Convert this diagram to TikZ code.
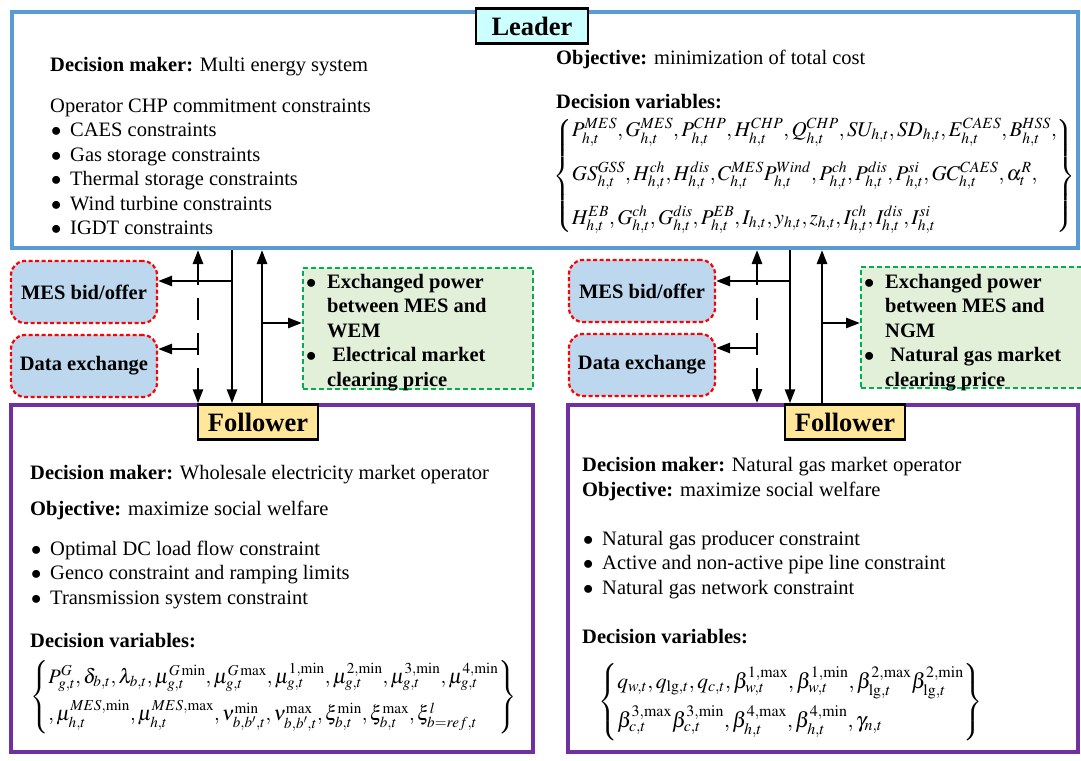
\documentclass[tikz,border=0pt]{standalone}
\usepackage{amsmath}
\usepackage{mathptmx}
\usepackage[no-math]{fontspec}
\setmainfont{Liberation Serif}
\usepackage{tikz}
\usetikzlibrary{positioning,calc,arrows.meta}
\definecolor{ldblue}{HTML}{5B9BD5}
\definecolor{flpurple}{HTML}{7030A0}
\definecolor{tagcyan}{HTML}{CCFFFF}
\definecolor{tagyellow}{HTML}{FFE699}
\definecolor{msgfill}{HTML}{BDD7EE}
\definecolor{infogreen}{HTML}{00B050}
\definecolor{infofill}{HTML}{E2F0D9}
\newcommand{\bodyfnt}{\fontsize{20.5}{24.5}\selectfont}
\newcommand{\headfnt}{\fontsize{26.5}{30}\selectfont\bfseries}
\newcommand{\bul}{\makebox[20pt][l]{\hspace{1pt}$\bullet$}}
\newcommand{\gbul}{\makebox[21pt][l]{$\bullet$}}
\tikzstyle{leadbox} = [draw=ldblue, line width=4pt, minimum width=1066, minimum height=236]
\tikzstyle{folbox} = [draw=flpurple, line width=4pt, minimum height=347]
\tikzstyle{tag} = [draw, line width=2.5pt, inner sep=0pt, minimum height=35, font=\headfnt]
\tikzstyle{msg} = [draw=red, line width=2.2pt, dash pattern=on 4pt off 2.5pt, rounded corners=14pt, fill=msgfill, minimum width=146, minimum height=62, font=\bodyfnt\bfseries]
\tikzstyle{info} = [draw=infogreen, line width=2pt, dash pattern=on 5pt off 3pt, fill=infofill, minimum height=121]
\tikzstyle{txt} = [inner sep=0pt, anchor=base west, font=\bodyfnt]
\tikzstyle{vars} = [inner sep=0pt, anchor=west]
\tikzstyle{to} = [-{Triangle[length=14pt,width=10pt]}, line width=2.6pt]
\tikzstyle{dashto} = [{Triangle[length=14pt,width=10pt]}-{Triangle[length=14pt,width=10pt]}, line width=2.6pt, dash pattern=on 22pt off 13pt]

\begin{document}
\begin{tikzpicture}[x=1pt, y=-1pt]
	\useasboundingbox (0,0) rectangle (1081,760);
	% leader
	\node (lead) [leadbox] at (545,130) {};
	\node (ltag) [tag, fill=tagcyan, minimum width=112] at (532,26) {Leader};
	\node (ldm) [txt] at (50,71) {\textbf{Decision maker:} Multi energy system};
	\node (lcons) [txt] at (50,112) {\begin{tabular}[t]{@{}l@{}}Operator CHP commitment constraints\\
		\bul CAES constraints\\ \bul Gas storage constraints\\ \bul Thermal storage constraints\\
		\bul Wind turbine constraints\\ \bul IGDT constraints\end{tabular}};
	\node (lobj) [txt] at (556,64) {\textbf{Objective:} minimization of total cost};
	\node (lvar) [txt] at (556,108) {\textbf{Decision variables:}};
	\node (lset) [vars, font=\fontsize{21}{25}\selectfont] at (553,176) {$\left\{\begin{array}{@{}l@{}}
		P_{h,t}^{MES},G_{h,t}^{MES},P_{h,t}^{CHP},H_{h,t}^{CHP},Q_{h,t}^{CHP},SU_{h,t},SD_{h,t},E_{h,t}^{CAES},B_{h,t}^{HSS},\\[18pt]
		GS_{h,t}^{GSS},H_{h,t}^{ch},H_{h,t}^{dis},C_{h,t}^{MES}P_{h,t}^{Wind},P_{h,t}^{ch},P_{h,t}^{dis},P_{h,t}^{si},GC_{h,t}^{CAES},\alpha_t^{R},\\[18pt]
		H_{h,t}^{EB},G_{h,t}^{ch},G_{h,t}^{dis},P_{h,t}^{EB},I_{h,t},y_{h,t},z_{h,t},I_{h,t}^{ch},I_{h,t}^{dis},I_{h,t}^{si}
		\end{array}\right\}$};
	%
	% followers
	\node (folL) [folbox, minimum width=522] at (272,578.5) {};
	\node (folR) [folbox, minimum width=510] at (823,578.5) {};
	\node (ftagL) [tag, fill=tagyellow, minimum width=120] at (258,422) {Follower};
	\node (ftagR) [tag, fill=tagyellow, minimum width=120] at (845,422) {Follower};
	%
	\node (fdmL) [txt] at (30,479) {\textbf{Decision maker:} Wholesale electricity market operator};
	\node (fobjL) [txt] at (30,515) {\textbf{Objective:} maximize social welfare};
	\node (fconL) [txt] at (30,555) {\begin{tabular}[t]{@{}l@{}}\bul Optimal DC load flow constraint\\
		\bul Genco constraint and ramping limits\\ \bul Transmission system constraint\end{tabular}};
	\node (fvarL) [txt] at (30,647) {\textbf{Decision variables:}};
	\node (fsetL) [vars, font=\fontsize{20.5}{24}\selectfont] at (30,697) {$\left\{\begin{array}{@{}l@{}}
		P_{g,t}^{G},\delta_{b,t},\lambda_{b,t},\mu_{g,t}^{G\min},\mu_{g,t}^{G\max},\mu_{g,t}^{1,\min},\mu_{g,t}^{2,\min},\mu_{g,t}^{3,\min},\mu_{g,t}^{4,\min}\\[10pt]
		,\mu_{h,t}^{MES,\min},\mu_{h,t}^{MES,\max},\nu_{b,b',t}^{\min},\nu_{b,b',t}^{\max},\xi_{b,t}^{\min},\xi_{b,t}^{\max},\xi_{b=ref,t}^{l}
		\end{array}\right\}$};
	%
	\node (fdmR) [txt] at (582,471) {\textbf{Decision maker:} Natural gas market operator};
	\node (fobjR) [txt] at (582,496) {\textbf{Objective:} maximize social welfare};
	\node (fconR) [txt] at (582,545) {\begin{tabular}[t]{@{}l@{}}\bul Natural gas producer constraint\\
		\bul Active and non-active pipe line constraint\\ \bul Natural gas network constraint\end{tabular}};
	\node (fvarR) [txt] at (582,643) {\textbf{Decision variables:}};
	\node (fsetR) [vars, font=\fontsize{21.5}{25}\selectfont] at (598,702) {$\left\{\begin{array}{@{}l@{}}
		q_{w,t},q_{\lg,t},q_{c,t},\beta_{w,t}^{1,\max},\beta_{w,t}^{1,\min},\beta_{\lg,t}^{2,\max}\beta_{\lg,t}^{2,\min}\\[10pt]
		\beta_{c,t}^{3,\max}\beta_{c,t}^{3,\min},\beta_{h,t}^{4,\max},\beta_{h,t}^{4,\min},\gamma_{n,t}
		\end{array}\right\}$};
	%
	% exchange boxes
	\node (mesL) [msg] at (84,292) {MES bid/offer};
	\node (datL) [msg] at (84,366) {Data exchange};
	\node (wemL) [info, minimum width=230] at (418,328.5) {};
	\node (wemLt) [txt] at (306,288) {\begin{tabular}[t]{@{}l@{}}\textbf{\gbul Exchanged power}\\
		\textbf{\hspace{21pt}between MES and}\\ \textbf{\hspace{21pt}WEM}\\
		\textbf{\gbul\ Electrical market}\\ \textbf{\hspace{21pt}clearing price}\end{tabular}};
	\node (mesR) [msg] at (642,291) {MES bid/offer};
	\node (datR) [msg] at (642,365) {Data exchange};
	\node (ngmR) [info, minimum width=226] at (974,327.5) {};
	\node (ngmRt) [txt] at (864,288) {\begin{tabular}[t]{@{}l@{}}\textbf{\gbul Exchanged power}\\
		\textbf{\hspace{21pt}between MES and}\\ \textbf{\hspace{21pt}NGM}\\
		\textbf{\gbul\ Natural gas market}\\ \textbf{\hspace{21pt}clearing price}\end{tabular}};
	%
	% connectors, left
	\coordinate (jmesL) at (232,281);
	\coordinate (jwemL) at (262,323);
	\coordinate (jdatL) at (198,349);
	\draw [to] (lead.south -| jmesL) -- (ftagL.north -| jmesL);
	\draw [to] (jmesL) -- (jmesL -| mesL.east);
	\draw [to] (ftagL.north -| jwemL) -- (lead.south -| jwemL);
	\draw [to] (jwemL) -- (jwemL -| wemL.west);
	\draw [dashto] (lead.south -| jdatL) -- (ftagL.north -| jdatL);
	\draw [to] (jdatL) -- (jdatL -| datL.east);
	%
	% connectors, right
	\coordinate (jmesR) at (790,281);
	\coordinate (jngmR) at (822,323);
	\coordinate (jdatR) at (757,348);
	\draw [to] (lead.south -| jmesR) -- (ftagR.north -| jmesR);
	\draw [to] (jmesR) -- (jmesR -| mesR.east);
	\draw [to] (ftagR.north -| jngmR) -- (lead.south -| jngmR);
	\draw [to] (jngmR) -- (jngmR -| ngmR.west);
	\draw [dashto] (lead.south -| jdatR) -- (folR.north -| jdatR);
	\draw [to] (jdatR) -- (jdatR -| datR.east);
\end{tikzpicture}
\end{document}
